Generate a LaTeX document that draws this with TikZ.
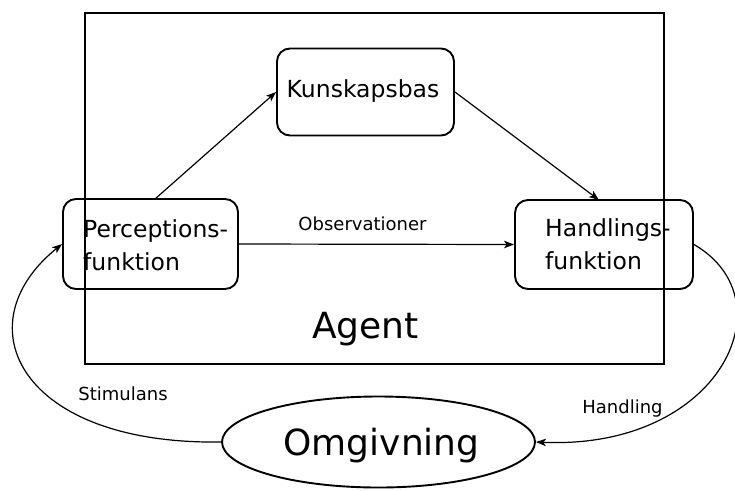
\documentclass[tikz,border=0pt]{standalone}
\usepackage{fontspec}
\setmainfont{DejaVu Sans}
\usetikzlibrary{arrows.meta,shapes.geometric}
\begin{document}
\begin{tikzpicture}[x=1pt,y=-1pt,
  box/.style={draw,line width=1.9pt,rounded corners=13pt,inner sep=0pt},
  conn/.style={line width=1.2pt,-{Stealth[length=10pt,width=7.5pt,inset=2.5pt]}},
  lab/.style={font=\fontsize{18}{20}\selectfont,inner sep=0pt,anchor=base},
  boxtext/.style={font=\fontsize{23.5}{33}\selectfont,inner sep=0pt},
  bigtext/.style={font=\fontsize{36}{40}\selectfont,inner sep=0pt,anchor=base}]
\useasboundingbox (0,0) rectangle (735,490);
\draw[line width=2.6pt] (85,13) rectangle (664,364);
\node[box,minimum width=177pt,minimum height=87pt] (kb) at (365.5,92) {};
\node[boxtext,anchor=base] (kbt) at (363,97) {Kunskapsbas};
\node[box,minimum width=175pt,minimum height=90pt] (pf) at (150.5,244) {};
\node[boxtext,align=left,anchor=west] (pft) at (83,245) {Perceptions-\\funktion};
\node[box,minimum width=178pt,minimum height=89pt] (hf) at (604,244.5) {};
\node[boxtext,align=left,anchor=west] (hft) at (545,244) {Handlings-\\funktion};
\node[bigtext] (ag) at (365.5,338) {Agent};
\node[draw,ellipse,line width=1.9pt,minimum width=313pt,minimum height=91pt,inner sep=0pt] (om) at (378.5,442) {};
\node[bigtext] (omt) at (381.5,455) {Omgivning};
\coordinate (p1) at (155,199);
\coordinate (h1) at (599,200);
\draw[conn] (p1) -- (kb.west);
\draw[conn] (kb.east) -- (h1);
\draw[conn] (pf.east) -- (hf.west);
\node[lab] (obs) at (362.5,230) {Observationer};
\draw[conn] (om.west) .. controls (20,445) and (-38,325) .. (pf.west);
\node[lab] (st) at (123,400) {Stimulans};
\draw[conn] (hf.east) .. controls (790,300) and (720,450) .. (om.east);
\node[lab] (hl) at (622.5,413) {Handling};
\end{tikzpicture}
\end{document}
